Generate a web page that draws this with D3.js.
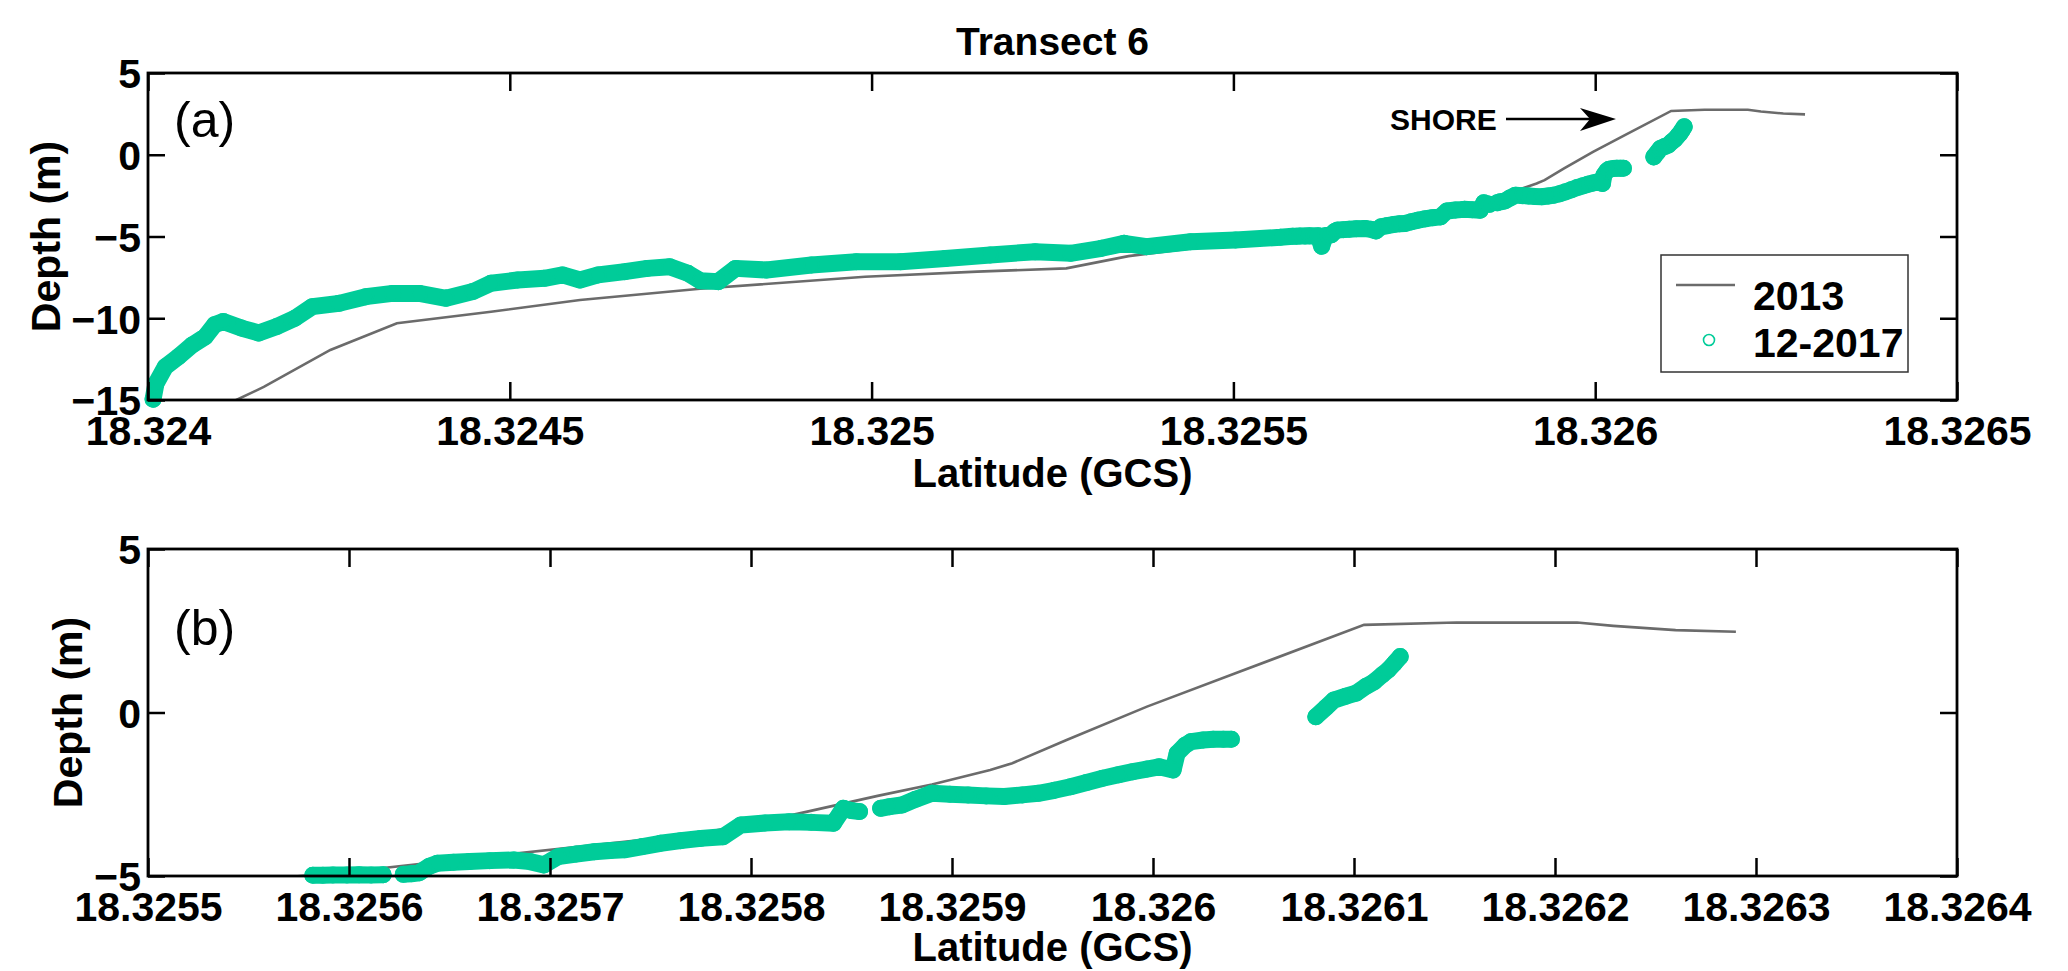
<!DOCTYPE html>
<html>
<head>
<meta charset="utf-8">
<script src="https://cdn.jsdelivr.net/npm/d3@7/dist/d3.min.js"></script>
<style>
body { margin: 0; background: #fff; }
text { font-family: "Liberation Sans", Arial, Helvetica, sans-serif; }
</style>
</head>
<body>
<div class="chartContainer"></div>
<script>
// 2013 profile (latitude, depth in m)
var lat2013 = [18.32408, 18.324122, 18.32416, 18.324252, 18.324344, 18.324474, 18.324597, 18.324763,
    18.324991, 18.325146, 18.325269, 18.325355, 18.3256, 18.325722, 18.325775, 18.325823, 18.325863,
    18.32589, 18.325919, 18.32593, 18.325957, 18.325997, 18.326041, 18.326105, 18.326151, 18.326211,
    18.326229, 18.32626, 18.32629]
var depth2013 = [-15.9, -15.0, -14.2, -11.94, -10.31, -9.6, -8.88, -8.2,
    -7.46, -7.15, -6.95, -6.2, -4.87, -4.05, -3.7, -3.1, -2.55,
    -2.2, -1.76, -1.55, -0.84, 0.18, 1.2, 2.68, 2.75, 2.75,
    2.65, 2.52, 2.47]

// 12-2017 survey points, null = gap in the record
var lat2017 = [
    18.324007, 18.324011, 18.324024, 18.324042, 18.324061, 18.324079, 18.324092, 18.324104, 18.324129, 18.324153,
    18.324178, 18.324203, 18.324227, 18.324264, 18.324301, 18.324338, 18.324375, 18.324412, 18.324449, 18.324474,
    18.324511, 18.324548, 18.324573, 18.324597, 18.324622, 18.324659, 18.32469, 18.324721, 18.324746, 18.324763,
    18.324788, 18.324812, 18.324855, 18.324917, 18.324979, 18.32504, 18.325102, 18.325164, 18.325226, 18.325275,
    18.325318, 18.325349, 18.32538, 18.325441, 18.325503, 18.325565, 18.325582, 18.325587, 18.325592, 18.325599,
    18.325605, 18.325611, 18.325617, 18.325622, 18.325627, 18.325631, 18.325635, 18.32564, 18.325644, 18.325652,
    18.32566, 18.32567, 18.325682, 18.32569, 18.325697, 18.325704, 18.325713, 18.325722, 18.32573, 18.325737,
    18.325746, 18.325755, 18.325765, 18.325775, 18.325786, 18.325795, 18.325807, 18.325819, 18.32583, 18.325841,
    18.325846, 18.32585, 18.325854, null, 18.3258645, 18.325869, 18.325875, 18.325882, 18.32589, 18.325899,
    18.325908, 18.325917, 18.325926, 18.325935, 18.325943, 18.325951, 18.325959, 18.325967, 18.325975, 18.325983,
    18.32599, 18.325997, 18.326003, 18.32601, 18.326012, 18.326016, 18.326019, 18.326025, 18.32603, 18.326035,
    18.326039, null, 18.326081, 18.326086, 18.32609, 18.326096, 18.326101, 18.326106, 18.32611, 18.326114,
    18.326117, 18.32612, 18.326123]
var depth2017 = [
    -14.95, -14.0, -12.96, -12.35, -11.64, -11.13, -10.4, -10.2, -10.6, -10.9,
    -10.5, -10.0, -9.29, -9.09, -8.68, -8.48, -8.48, -8.78, -8.37, -7.86,
    -7.66, -7.56, -7.35, -7.66, -7.35, -7.15, -6.95, -6.85, -7.25, -7.7,
    -7.76, -6.95, -7.05, -6.74, -6.54, -6.54, -6.34, -6.13, -5.93, -6.03,
    -5.72, -5.42, -5.62, -5.32, -5.21, -5.05, -4.98, -4.98, -4.97, -4.97,
    -4.96, -4.97, -4.96, -5.6, -4.95, -4.93, -4.9, -4.7, -4.61, -4.58,
    -4.56, -4.53, -4.51, -4.56, -4.66, -4.41, -4.33, -4.26, -4.22, -4.2,
    -4.1, -4.0, -3.92, -3.85, -3.8, -3.44, -3.38, -3.34, -3.36, -3.39,
    -2.93, -3.0, -3.03, null, -2.93, -2.88, -2.83, -2.65, -2.47, -2.5,
    -2.52, -2.55, -2.57, -2.52, -2.47, -2.38, -2.27, -2.14, -2.01, -1.9,
    -1.81, -1.73, -1.66, -1.76, -1.25, -1.0, -0.89, -0.84, -0.82, -0.82,
    -0.82, null, -0.13, 0.15, 0.38, 0.5, 0.59, 0.8, 0.94, 1.15,
    1.3, 1.5, 1.71]

// axis ticks
var xTicksA = [18.324, 18.3245, 18.325, 18.3255, 18.326, 18.3265]
var xLabelsA = ['18.324', '18.3245', '18.325', '18.3255', '18.326', '18.3265']
var yTicksA = [-15, -10, -5, 0, 5]
var xTicksB = [18.3255, 18.3256, 18.3257, 18.3258, 18.3259, 18.326, 18.3261, 18.3262, 18.3263, 18.3264]
var xLabelsB = ['18.3255', '18.3256', '18.3257', '18.3258', '18.3259', '18.326', '18.3261', '18.3262', '18.3263', '18.3264']
var yTicksB = [-5, 0, 5]
var legendLabels = ['2013', '12-2017']

var gray = '#6b6b6b'
var green = '#00cc99'

var W = 2068, H = 971
var line2013 = lat2013.map((d, i) => ({lat: d, depth: depth2013[i]}))
var pts2017 = lat2017.map((d, i) => ({lat: d, depth: depth2017[i]}))

var svg = d3.select('.chartContainer').append('svg')
    .attr('width', W)
    .attr('height', H)
    .attr('viewBox', [0, 0, W, H])

function plotPanel(p) {
    let x = d3.scaleLinear().domain(p.xDomain).range([p.left, p.right])
    let y = d3.scaleLinear().domain(p.yDomain).range([p.bottom, p.top])
    let g = svg.append('g').attr('class', 'panel ' + p.id)

    g.append('clipPath').attr('id', 'clip' + p.id)
        .append('rect')
        .attr('x', p.left).attr('y', p.top)
        .attr('width', p.right - p.left).attr('height', p.bottom - p.top)

    // 2013 line, clipped to the box
    g.append('path')
        .datum(line2013)
        .attr('clip-path', 'url(#clip' + p.id + ')')
        .attr('fill', 'none')
        .attr('stroke', gray)
        .attr('stroke-width', 2.6)
        .attr('d', d3.line().x(d => x(d.lat)).y(d => y(d.depth)))

    // 2017 markers: only points inside the limits, markers themselves not clipped
    let inside = d => d.depth !== null && d.lat >= p.xDomain[0] && d.lat <= p.xDomain[1] &&
        d.depth >= p.yDomain[0] && d.depth <= p.yDomain[1]

    g.append('path') // dense marker trail
        .datum(pts2017)
        .attr('fill', 'none')
        .attr('stroke', green)
        .attr('stroke-width', 17)
        .attr('stroke-linecap', 'round')
        .attr('stroke-linejoin', 'round')
        .attr('d', d3.line().defined(inside).x(d => x(d.lat)).y(d => y(d.depth)))

    g.selectAll('.m2017')
        .data(pts2017.filter(inside))
        .enter()
        .append('circle')
        .attr('class', 'm2017')
        .attr('cx', d => x(d.lat))
        .attr('cy', d => y(d.depth))
        .attr('r', 7.5)
        .attr('fill', green)
        .attr('stroke', green)
        .attr('stroke-width', 2)

    // axes, matlab style ticks pointing in on all four sides
    let styleAxis = a => a.call(s => s.select('.domain').remove())
        .call(s => s.selectAll('line').attr('stroke', '#000').attr('stroke-width', 2.5))
        .call(s => s.selectAll('text')
            .attr('fill', '#000')
            .style('font-size', '41px')
            .style('font-weight', 'bold'))

    g.append('g')
        .attr('transform', 'translate(0,' + p.bottom + ')')
        .call(d3.axisBottom(x).tickValues(p.xTicks).tickFormat((d, i) => p.xLabels[i])
            .tickSizeInner(-18).tickSizeOuter(0).tickPadding(16))
        .call(styleAxis)

    g.append('g')
        .attr('transform', 'translate(0,' + p.top + ')')
        .call(d3.axisTop(x).tickValues(p.xTicks).tickFormat('').tickSizeInner(-18).tickSizeOuter(0))
        .call(styleAxis)

    g.append('g')
        .attr('transform', 'translate(' + p.left + ',0)')
        .call(d3.axisLeft(y).tickValues(p.yTicks).tickFormat(d3.format('d'))
            .tickSizeInner(-17).tickSizeOuter(0).tickPadding(7))
        .call(styleAxis)
        .call(s => s.selectAll('text').attr('dy', '0.36em'))

    g.append('g')
        .attr('transform', 'translate(' + p.right + ',0)')
        .call(d3.axisRight(y).tickValues(p.yTicks).tickFormat('').tickSizeInner(-17).tickSizeOuter(0))
        .call(styleAxis)

    g.append('rect')
        .attr('x', p.left).attr('y', p.top)
        .attr('width', p.right - p.left).attr('height', p.bottom - p.top)
        .attr('fill', 'none')
        .attr('stroke', '#000')
        .attr('stroke-width', 2.8)

    // axis labels
    g.append('text')
        .attr('x', (p.left + p.right) / 2)
        .attr('y', p.xLabelY)
        .attr('text-anchor', 'middle')
        .style('font-size', '40px').style('font-weight', 'bold')
        .text('Latitude (GCS)')

    g.append('text')
        .attr('transform', 'translate(' + p.yLabelX + ',' + (p.top + p.bottom) / 2 + ') rotate(-90)')
        .attr('text-anchor', 'middle')
        .style('font-size', '41px').style('font-weight', 'bold')
        .text('Depth (m)')

    g.append('text')
        .attr('x', p.left + 26)
        .attr('y', p.tagY)
        .style('font-size', '50px')
        .text(p.tag)

    return {x: x, y: y, g: g}
}

var pa = plotPanel({id: 'a', tag: '(a)', left: 148, right: 1957, top: 73, bottom: 400,
    xDomain: [18.324, 18.3265], yDomain: [-15, 5], xTicks: xTicksA, xLabels: xLabelsA, yTicks: yTicksA,
    xLabelY: 487, yLabelX: 60, tagY: 137})

var pb = plotPanel({id: 'b', tag: '(b)', left: 148, right: 1957, top: 549, bottom: 876,
    xDomain: [18.3255, 18.3264], yDomain: [-5, 5], xTicks: xTicksB, xLabels: xLabelsB, yTicks: yTicksB,
    xLabelY: 961, yLabelX: 82, tagY: 645})

// title
svg.append('text')
    .attr('x', (148 + 1957) / 2)
    .attr('y', 55)
    .attr('text-anchor', 'middle')
    .style('font-size', '39px').style('font-weight', 'bold')
    .text('Transect 6')

// shore annotation
var shore = pa.g.append('g').attr('class', 'shore')
shore.append('text')
    .attr('x', 1390).attr('y', 130)
    .style('font-size', '30px').style('font-weight', 'bold')
    .text('SHORE')
shore.append('line')
    .attr('x1', 1506).attr('x2', 1596)
    .attr('y1', 119).attr('y2', 119)
    .attr('stroke', '#000').attr('stroke-width', 2.5)
shore.append('path')
    .attr('d', 'M1616,119 L1580,108 L1590,119 L1580,131 Z')
    .attr('fill', '#000')

// legend
var legend = pa.g.append('g').attr('class', 'legend')
legend.append('rect')
    .attr('x', 1661).attr('y', 255)
    .attr('width', 247).attr('height', 117)
    .attr('fill', '#fff')
    .attr('stroke', '#333')
    .attr('stroke-width', 1.5)
legend.append('line')
    .attr('x1', 1676).attr('x2', 1735)
    .attr('y1', 285).attr('y2', 285)
    .attr('stroke', gray).attr('stroke-width', 2.6)
legend.append('circle')
    .attr('cx', 1709).attr('cy', 340).attr('r', 5.5)
    .attr('fill', 'none')
    .attr('stroke', green).attr('stroke-width', 1.6)
legend.selectAll('.lg_text')
    .data(legendLabels)
    .enter()
    .append('text')
    .attr('class', 'lg_text')
    .attr('x', 1753)
    .attr('y', (d, i) => 310 + i * 47)
    .style('font-size', '41px').style('font-weight', 'bold')
    .text(d => d)
</script>
</body>
</html>
